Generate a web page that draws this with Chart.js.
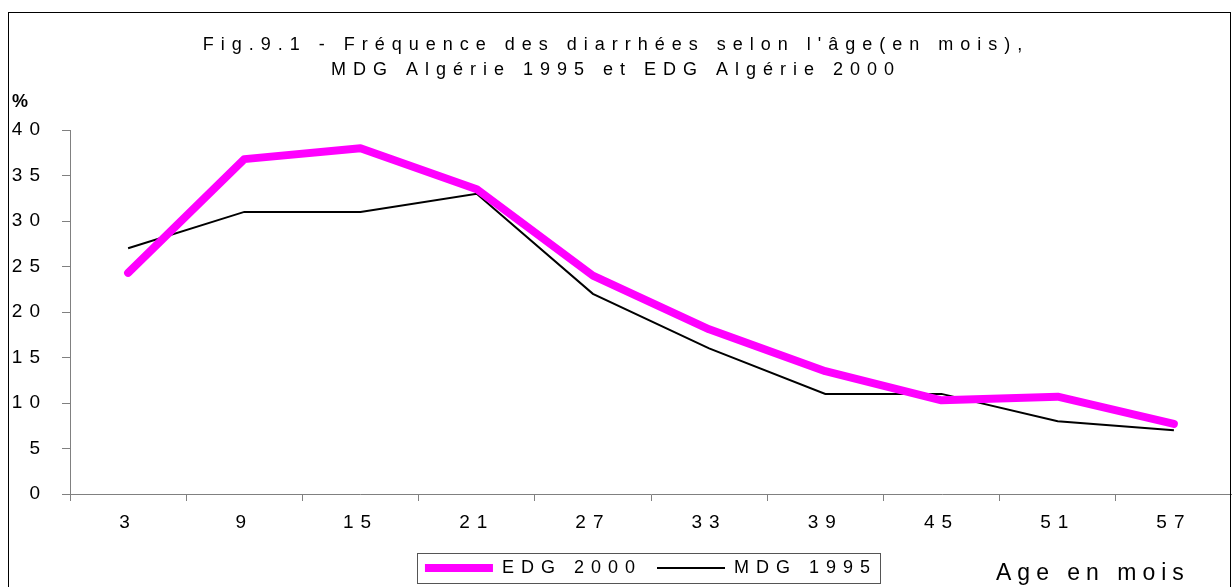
<!DOCTYPE html>
<html>
<head>
<meta charset="utf-8">
<script src="https://cdn.jsdelivr.net/npm/chart.js@4"></script>
<style>
  html, body { margin: 0; padding: 0; background: #fff; }
  canvas { display: block; }
</style>
</head>
<body>
<canvas id="myChart" width="1232" height="587"></canvas>
<script>
const ages = ["3", "9", "15", "21", "27", "33", "39", "45", "51", "57"];
const edg2000 = [24.3, 36.8, 38.0, 33.5, 24.0, 18.1, 13.5, 10.3, 10.7, 7.7];
const mdg1995 = [27, 31, 31, 33, 22, 16, 11, 11, 8, 7];
const yTicks = [0, 5, 10, 15, 20, 25, 30, 35, 40];

const FONT = "'Liberation Sans', Arial, sans-serif";
const AXIS_GREY = "#808080";

// extra drawing: outer frame, "%" label, x title, border round the legend
const frame = {
  id: "frame",
  beforeLayout(chart) {
    chart.ctx.letterSpacing = "7px";
    const legend = chart.legend;
    if (legend && !legend._fixedFit) {
      const fit = legend.fit;
      legend.fit = function () {
        fit.call(this);
        this.height = 43;
      };
      legend._fixedFit = true;
    }
  },
  beforeDraw(chart) {
    const ctx = chart.ctx;
    ctx.save();
    ctx.fillStyle = "#fff";
    ctx.fillRect(0, 0, chart.width, chart.height);
    ctx.restore();
    ctx.letterSpacing = "7px";
  },
  afterDraw(chart) {
    const ctx = chart.ctx;
    ctx.save();
    ctx.strokeStyle = "#000";
    ctx.lineWidth = 1;
    ctx.strokeRect(8.5, 12.5, 1222, 600);

    ctx.fillStyle = "#000";
    ctx.letterSpacing = "0px";
    ctx.font = "bold 18px " + FONT;
    ctx.textAlign = "left";
    ctx.textBaseline = "alphabetic";
    ctx.fillText("%", 12, 107);

    ctx.letterSpacing = "6px";
    ctx.font = "23px " + FONT;
    ctx.fillText("Age en mois", 996, 580);

    const boxes = chart.legend.legendHitBoxes;
    if (boxes && boxes.length) {
      const first = boxes[0];
      const last = boxes[boxes.length - 1];
      const left = first.left - 8;
      const right = last.left + last.width + 3;
      const cy = first.top + first.height / 2;
      ctx.strokeStyle = "#555";
      ctx.strokeRect(Math.round(left) + 0.5, Math.round(cy - 15) + 0.5, Math.round(right - left), 30);
    }
    ctx.restore();
  },
};

const data = {
  labels: ages,
  datasets: [
    {
      label: "EDG 2000",
      data: edg2000,
      borderColor: "#ff00ff",
      backgroundColor: "#ff00ff",
      borderWidth: 8,
      borderCapStyle: "round",
      borderJoinStyle: "round",
      pointRadius: 0,
      tension: 0,
    },
    {
      label: "MDG 1995",
      data: mdg1995,
      borderColor: "#000000",
      backgroundColor: "#000000",
      borderWidth: 2,
      pointRadius: 0,
      tension: 0,
    },
  ],
};

const config = {
  type: "line",
  data: data,
  plugins: [frame],
  options: {
    responsive: false,
    animation: false,
    layout: { padding: { left: 0, right: 0, top: 0, bottom: 0 } },
    plugins: {
      title: {
        display: true,
        text: [
          "Fig.9.1 - Fréquence des diarrhées selon l'âge(en mois),",
          "MDG Algérie 1995 et EDG Algérie 2000",
        ],
        color: "#000",
        font: { family: FONT, size: 18, weight: "normal", lineHeight: 1.4 },
        padding: { top: 32, bottom: 47.6 },
      },
      legend: {
        display: true,
        position: "bottom",
        fullSize: false,
        labels: {
          usePointStyle: true,
          pointStyle: "line",
          pointStyleWidth: 68,
          color: "#000",
          padding: 15,
          font: { family: FONT, size: 18 },
        },
      },
      tooltip: { enabled: false },
    },
    scales: {
      x: {
        offset: true,
        grid: {
          offset: true,
          drawOnChartArea: false,
          drawTicks: true,
          tickLength: 7,
          color: AXIS_GREY,
        },
        border: { color: AXIS_GREY, width: 1 },
        ticks: {
          color: "#000",
          padding: 10,
          maxRotation: 0,
          font: { family: FONT, size: 19 },
        },
        afterFit: (scale) => {
          scale.height = 50;
        },
      },
      y: {
        min: 0,
        max: 40,
        grid: {
          drawOnChartArea: false,
          drawTicks: true,
          tickLength: 8,
          color: AXIS_GREY,
        },
        border: { color: AXIS_GREY, width: 1 },
        afterBuildTicks: (scale) => {
          scale.ticks = yTicks.map((v) => ({ value: v }));
        },
        ticks: {
          color: "#000",
          padding: 15,
          font: { family: FONT, size: 19 },
        },
        afterFit: (scale) => {
          scale.width = 70;
        },
      },
    },
  },
};

new Chart(document.getElementById("myChart"), config);
</script>
</body>
</html>
